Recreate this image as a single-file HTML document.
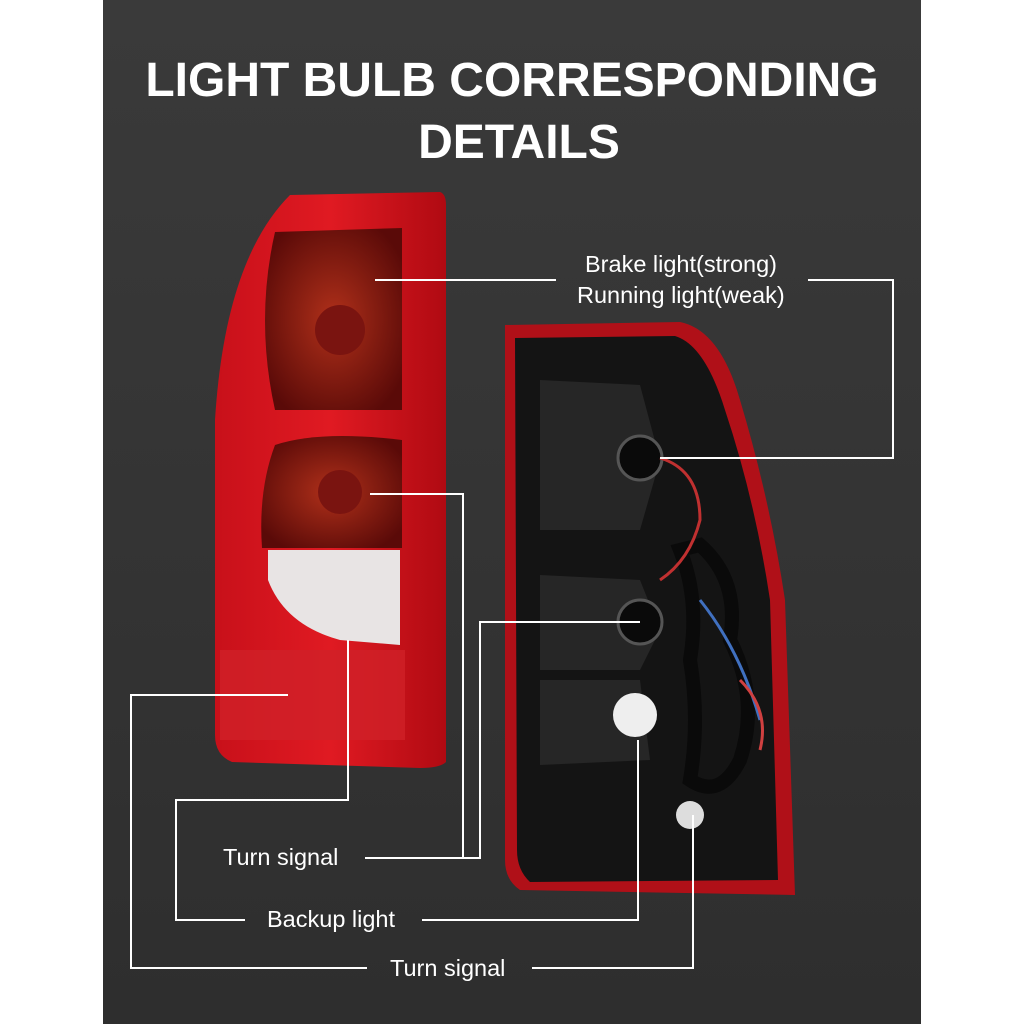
<!DOCTYPE html>
<html><head><meta charset="utf-8"><style>
html,body{margin:0;padding:0;background:#fff}
body{width:1024px;height:1024px;position:relative;overflow:hidden;font-family:"Liberation Sans",sans-serif}
.t{position:absolute;color:#fff;font-size:23.5px;white-space:nowrap;line-height:28px}
</style></head><body>
<svg width="1024" height="1024" style="position:absolute;left:0;top:0">
<defs>
<linearGradient id="bg" x1="0" y1="0" x2="0" y2="1"><stop offset="0" stop-color="#3a3a3a"/><stop offset="1" stop-color="#2e2e2e"/></linearGradient>
<linearGradient id="red" x1="0" y1="0" x2="1" y2="0"><stop offset="0" stop-color="#c8101a"/><stop offset="0.5" stop-color="#e01a22"/><stop offset="1" stop-color="#b00a12"/></linearGradient>
<radialGradient id="bulb" cx="0.5" cy="0.5" r="0.6"><stop offset="0" stop-color="#b0301a"/><stop offset="1" stop-color="#5a0a08"/></radialGradient>
</defs>
<rect x="103" y="0" width="818" height="1024" fill="url(#bg)"/>
<text x="512" y="96" fill="#fff" font-size="48" font-weight="bold" text-anchor="middle" font-family="Liberation Sans">LIGHT BULB CORRESPONDING</text>
<text x="519" y="158" fill="#fff" font-size="48" font-weight="bold" text-anchor="middle" font-family="Liberation Sans">DETAILS</text>
<path d="M290 195 L440 192 Q446 194 446 205 L446 762 Q440 768 420 768 L232 762 Q215 755 215 735 L215 420 Q225 260 290 195Z" fill="url(#red)"/>
<path d="M275 232 L402 228 L402 410 L275 410 Q255 320 275 232Z" fill="url(#bulb)"/>
<path d="M275 445 Q320 430 402 440 L402 548 L262 548 Q258 490 275 445Z" fill="url(#bulb)"/>
<circle cx="340" cy="330" r="25" fill="#7a1410"/>
<circle cx="340" cy="492" r="22" fill="#7a1410"/>
<path d="M268 550 L400 550 L400 645 L340 640 Q285 625 268 580Z" fill="#e8e4e4"/>
<rect x="220" y="650" width="185" height="90" fill="#d02028" opacity="0.8"/>
<path d="M505 325 L680 322 Q720 330 740 400 Q770 500 785 600 L795 895 L520 890 Q505 880 505 860Z" fill="#b01018"/>
<path d="M515 338 L675 336 Q705 345 725 410 Q755 500 770 600 L778 880 L530 882 Q517 870 517 850Z" fill="#141414"/>
<path d="M540 380 L640 385 L660 460 L640 530 L540 530Z" fill="#262626"/>
<path d="M540 575 L640 580 L660 630 L640 670 L540 670Z" fill="#262626"/>
<path d="M540 680 L640 680 L650 760 L540 765Z" fill="#262626"/>
<circle cx="640" cy="458" r="22" fill="#0a0a0a" stroke="#555" stroke-width="3"/>
<circle cx="640" cy="622" r="22" fill="#0a0a0a" stroke="#555" stroke-width="3"/>
<circle cx="635" cy="715" r="22" fill="#eee"/>
<circle cx="690" cy="815" r="14" fill="#ddd"/>
<path d="M680 550 Q700 600 690 660 Q700 720 690 780 Q720 800 740 760 Q760 700 730 640 Q740 580 700 545Z" fill="none" stroke="#0a0a0a" stroke-width="14"/>
<path d="M660 458 Q700 470 700 520 Q690 560 660 580" fill="none" stroke="#c03030" stroke-width="3"/>
<path d="M700 600 Q740 650 760 720" fill="none" stroke="#4070c0" stroke-width="3"/>
<path d="M740 680 Q770 710 760 750" fill="none" stroke="#d04040" stroke-width="3"/>
<g stroke="#fff" stroke-width="2" fill="none">
<polyline points="375,280 556,280"/>
<polyline points="808,280 893,280 893,458 660,458"/>
<polyline points="370,494 463,494 463,858 365,858"/>
<polyline points="463,858 480,858 480,622 640,622"/>
<polyline points="348,640 348,800 176,800 176,920 245,920"/>
<polyline points="422,920 638,920 638,740"/>
<polyline points="288,695 131,695 131,968 367,968"/>
<polyline points="532,968 693,968 693,815"/>
</g>
</svg>
<div class="t" style="left:585px;top:250px">Brake light(strong)</div>
<div class="t" style="left:577px;top:281px">Running light(weak)</div>
<div class="t" style="left:223px;top:843px">Turn signal</div>
<div class="t" style="left:267px;top:905px">Backup light</div>
<div class="t" style="left:390px;top:954px">Turn signal</div>
</body></html>
